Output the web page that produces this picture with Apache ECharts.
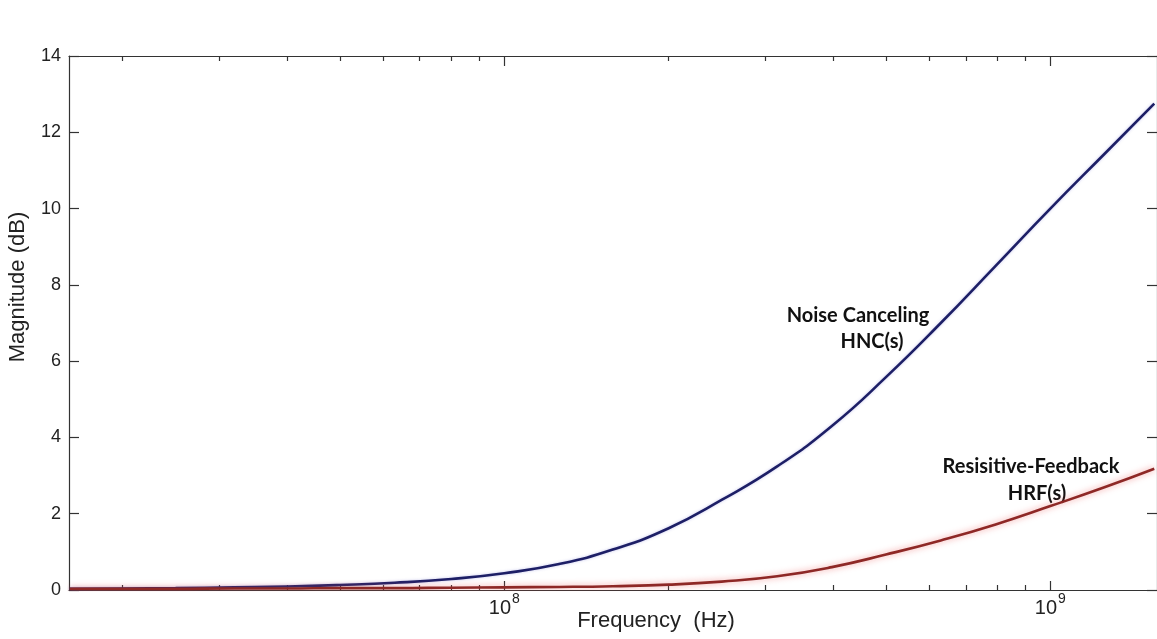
<!DOCTYPE html>
<html lang="en" style="height: 100%">
  <head>
    <meta charset="utf-8" />
    <title>Magnitude vs Frequency</title>
  </head>
  <body style="height: 100%; margin: 0; background: #fff">
    <div id="container" style="width: 1157px; height: 639px"></div>

    <script
      type="text/javascript"
      src="https://fastly.jsdelivr.net/npm/echarts@6/dist/echarts.min.js"
    ></script>

    <script type="text/javascript">
      // frequency samples (Hz), ~0.1 decade apart
      var freqHz = [
        1.6e7, 2e7, 2.5e7, 3.2e7, 4e7, 5e7, 6.3e7, 8e7, 1e8, 1.26e8, 1.58e8,
        2e8, 2.5e8, 3.16e8, 3.98e8, 5e8, 6.3e8, 7.94e8, 1e9, 1.26e9, 1.55e9
      ];
      // noise canceling HNC(s), dB
      var hncDb = [
        0.03, 0.04, 0.05, 0.07, 0.09, 0.13, 0.19, 0.29, 0.44, 0.68, 1.06,
        1.62, 2.36, 3.24, 4.3, 5.58, 7.0, 8.5, 10.0, 11.45, 12.75
      ];
      // resistive feedback HRF(s), dB
      var hrfDb = [
        0.03, 0.03, 0.03, 0.04, 0.04, 0.05, 0.05, 0.06, 0.07, 0.08, 0.1,
        0.14, 0.22, 0.36, 0.6, 0.93, 1.3, 1.72, 2.2, 2.7, 3.18
      ];
      var freqRange = [1.595e7, 1.568e9];
      var majorTicks = [1e8, 1e9];
      var minorTicks = [
        2e7, 3e7, 4e7, 5e7, 6e7, 7e7, 8e7, 9e7,
        2e8, 3e8, 4e8, 5e8, 6e8, 7e8, 8e8, 9e8
      ];

      var lg = function (v) { return Math.log10(v); };
      var axisColor = "#333";
      var labelFont = "Liberation Sans, Arial, sans-serif";
      var noteFont = "Lato, Noto Sans, sans-serif";

      var dom = document.getElementById("container");
      var myChart = echarts.init(dom, null, { renderer: "canvas" });

      function xAxisOf(pos, ticks, len, showLine, showLabel) {
        return {
          type: "value",
          position: pos,
          min: lg(freqRange[0]),
          max: lg(freqRange[1]),
          splitLine: { show: false },
          axisLine: { show: showLine, onZero: false, lineStyle: { color: axisColor, width: 1.2 } },
          axisTick: {
            inside: true,
            length: len,
            lineStyle: { color: axisColor, width: 1.2 },
            customValues: ticks.map(lg)
          },
          axisLabel: {
            show: showLabel,
            customValues: majorTicks.map(lg),
            margin: 2,
            formatter: function (v) {
              return "{b|10}{s|" + Math.round(v) + "}";
            },
            rich: {
              b: { fontFamily: labelFont, fontSize: 20, color: "#222", lineHeight: 26, verticalAlign: "bottom" },
              s: { fontFamily: labelFont, fontSize: 14, color: "#222", lineHeight: 26, verticalAlign: "top", padding: [0, 0, 0, 1] }
            }
          }
        };
      }

      var option = {
        animation: false,
        backgroundColor: "#fff",
        grid: { left: 69, top: 56, right: -4, bottom: 49 },
        xAxis: [
          xAxisOf("bottom", majorTicks, 9, true, true),
          xAxisOf("bottom", minorTicks, 5, false, false),
          xAxisOf("top", majorTicks, 10, true, false),
          xAxisOf("top", minorTicks, 5, false, false)
        ],
        yAxis: [
          {
            type: "value",
            position: "left",
            min: 0,
            max: 14,
            interval: 2,
            splitLine: { show: false },
            axisLine: { show: true, lineStyle: { color: axisColor, width: 1.2 } },
            axisTick: { inside: true, length: 10, lineStyle: { color: axisColor, width: 1.2 } },
            axisLabel: { fontFamily: labelFont, fontSize: 18, color: "#222", margin: 8 }
          },
          {
            type: "value",
            position: "right",
            min: 0,
            max: 14,
            interval: 2,
            splitLine: { show: false },
            axisLine: { show: true, lineStyle: { color: axisColor, width: 1.2 } },
            axisTick: { inside: true, length: 10, lineStyle: { color: axisColor, width: 1.2 } },
            axisLabel: { show: false }
          }
        ],
        series: [
          {
            name: "HNC(s)",
            type: "line",
            smooth: 0.5,
            symbol: "none",
            data: freqHz.map(function (f, i) { return [lg(f), hncDb[i]]; }),
            lineStyle: {
              color: "#1d1f66",
              width: 2.6,
              shadowColor: "rgba(90,90,200,0.35)",
              shadowBlur: 3
            }
          },
          {
            name: "HRF(s)",
            type: "line",
            smooth: 0.5,
            symbol: "none",
            data: freqHz.map(function (f, i) { return [lg(f), hrfDb[i]]; }),
            lineStyle: {
              color: "#8e2826",
              width: 2.6,
              shadowColor: "rgba(235,80,80,0.6)",
              shadowBlur: 6
            }
          }
        ],
        graphic: [
          {
            type: "text",
            x: 18,
            y: 287,
            rotation: Math.PI / 2,
            style: {
              text: "Magnitude (dB)",
              font: "22px " + labelFont,
              fill: "#222",
              align: "center",
              verticalAlign: "middle"
            }
          },
          {
            type: "text",
            x: 656,
            y: 621,
            style: {
              text: "Frequency  (Hz)",
              font: "22px " + labelFont,
              fill: "#222",
              align: "center",
              verticalAlign: "middle"
            }
          },
          {
            type: "text",
            x: 858,
            y: 316,
            style: { text: "Noise Canceling", font: "bold 20px " + noteFont, fill: "#111", align: "center", verticalAlign: "middle" }
          },
          {
            type: "text",
            x: 872,
            y: 342,
            style: { text: "HNC(s)", font: "bold 20px " + noteFont, fill: "#111", align: "center", verticalAlign: "middle" }
          },
          {
            type: "text",
            x: 1031,
            y: 467,
            style: { text: "Resisitive-Feedback", font: "bold 20px " + noteFont, fill: "#111", align: "center", verticalAlign: "middle" }
          },
          {
            type: "text",
            x: 1037,
            y: 494,
            style: { text: "HRF(s)", font: "bold 20px " + noteFont, fill: "#111", align: "center", verticalAlign: "middle" }
          }
        ]
      };

      myChart.setOption(option);
      window.addEventListener("resize", myChart.resize);
    </script>
  </body>
</html>
